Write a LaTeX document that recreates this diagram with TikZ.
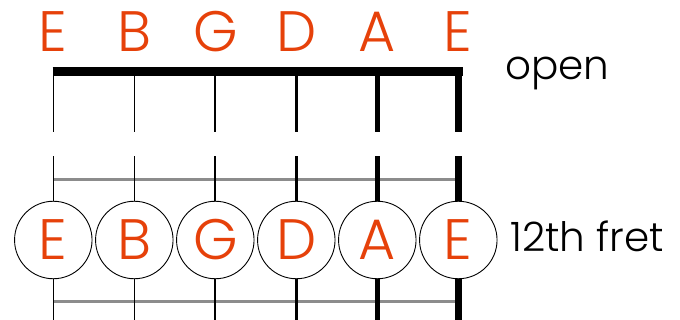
\documentclass[tikz,border=0pt]{standalone}
\usepackage{fontspec}
\setmainfont{Poppins}[UprightFont=* Light]
\usetikzlibrary{positioning}
\definecolor{noteorange}{HTML}{E6410A}
\tikzset{
  nutbar/.style    = {line width=9.5pt, line cap=butt},
  fretwire/.style  = {draw=black!45, line width=3pt},
}

\begin{document}
\begin{tikzpicture}[
    x=1pt, y=-1pt,
    every node/.style ={inner sep=0pt},
    note/.style       ={text=noteorange, font=\fontsize{57}{57}\selectfont},
    fretnote/.style   ={note, circle, draw=black, line width=0.9pt,
                        fill=white, minimum size=77.5pt},
    caption/.style    ={anchor=base west, font=\fontsize{40.5}{40.5}\selectfont}
  ]
  \useasboundingbox (0,0) rectangle (680,320);

  %% --- Open string names and string end points ------------------------
  \foreach \s/\x/\n in {1/53.3/E, 2/134.3/B, 3/215.3/G,
                        4/296.3/D, 5/377.3/A, 6/458.3/E} {
    \node[note, anchor=base] (top\s) at (\x,51.7) {\n};
    \coordinate (nut\s) at (\x,76);
    \coordinate (up\s)  at (\x,131.7);
    \coordinate (lo\s)  at (\x,156.5);
    \coordinate (end\s) at (\x,322);
  }

  %% --- Nut and the two frets around the 12th ----------------------------
  \draw[nutbar] (52.7,71.7) -- (462.5,71.7);
  \draw[fretwire] (53.3,180) -- (456,180);
  \draw[fretwire] (53.3,302) -- (456,302);

  %% --- Strings (thin to thick) -------------------------------------------
  \foreach \s/\w in {1/1.3, 2/1.4, 3/1.7, 4/2.8, 5/5, 6/7.5} {
    \draw[line width=\w pt] (nut\s) -- (up\s);
    \draw[line width=\w pt] (lo\s) -- (end\s);
  }

  %% --- Notes at the 12th fret --------------------------------------------
  \foreach \s/\x/\n in {1/53.3/E, 2/134.3/B, 3/215.3/G,
                        4/296.3/D, 5/377.3/A, 6/458.3/E}
    \node[fretnote] (oct\s) at (\x,240) {\n};

  %% --- Captions ------------------------------------------------------------
  \node[caption] (open) at (505,80) {open};
  \node[caption] (twelfth) at (510,251.7) {12th fret};
\end{tikzpicture}
\end{document}
